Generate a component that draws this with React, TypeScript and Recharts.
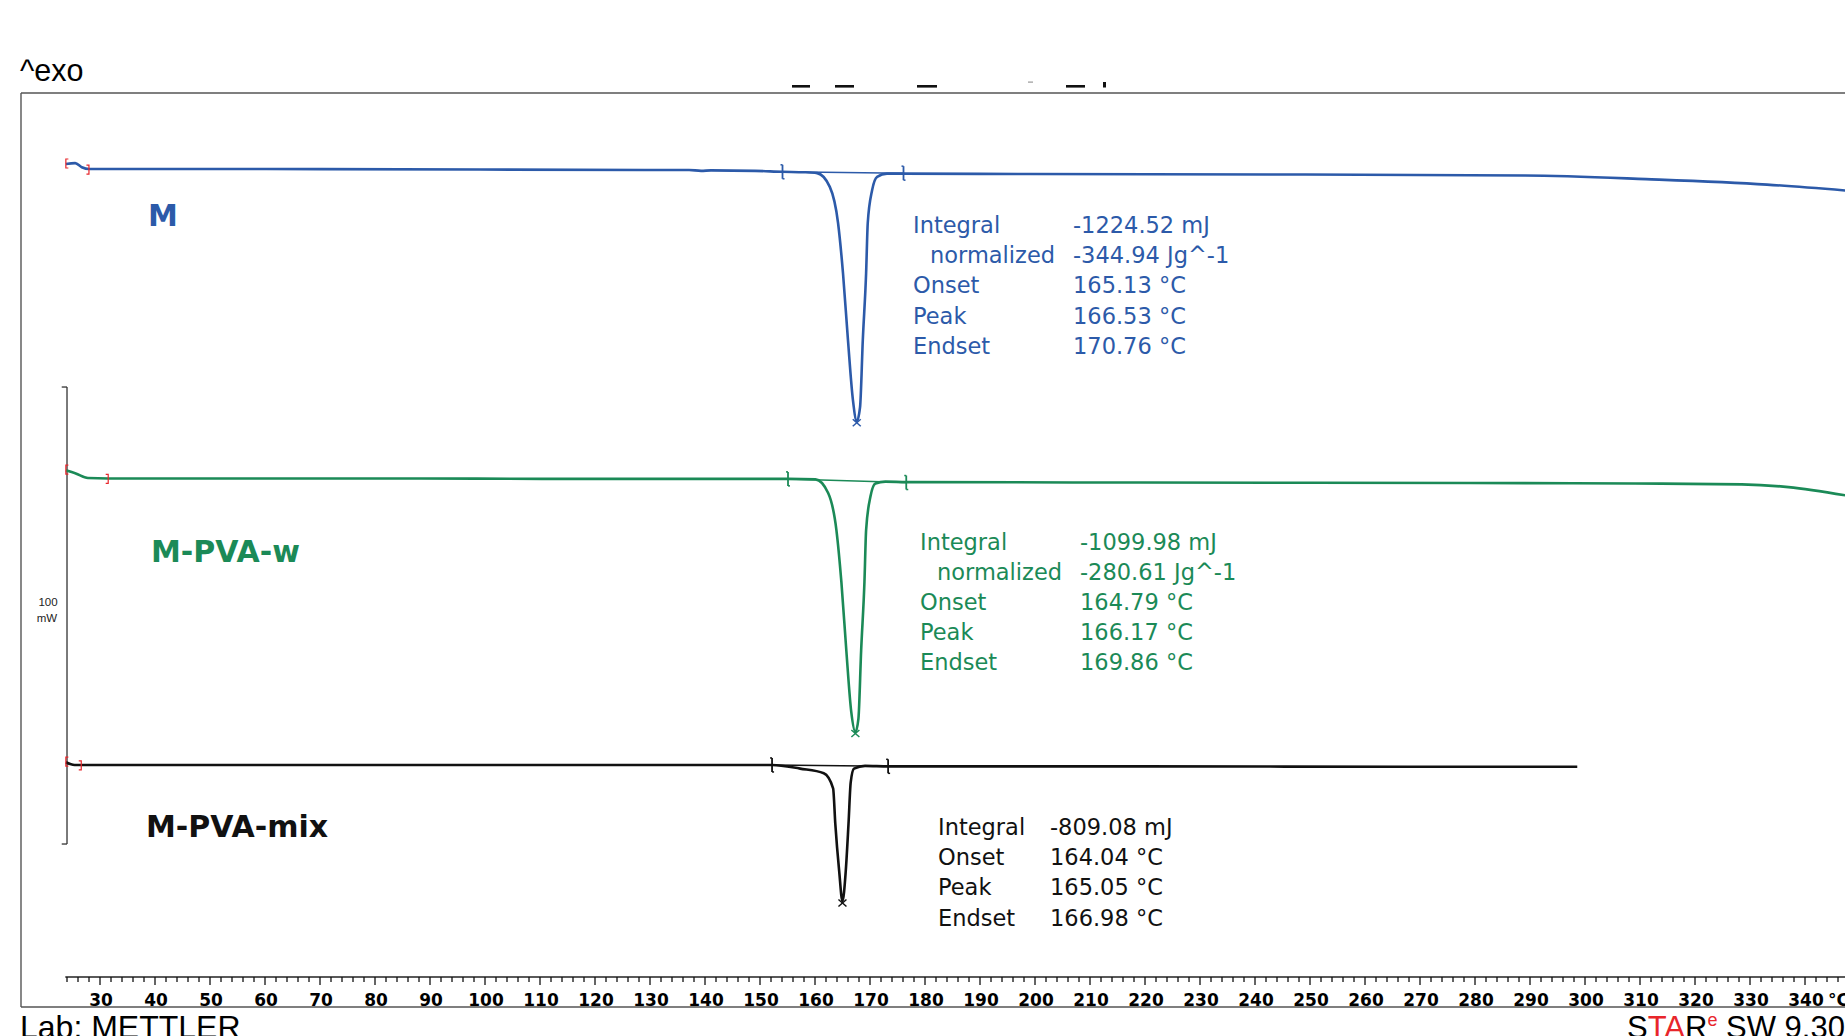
import React from 'react';
import { LineChart, Line, XAxis, YAxis, ReferenceLine, ReferenceDot } from 'recharts';

const BLUE = '#2c5aa9';
const GREEN = '#1b8a57';
const BLACK = '#111111';
const RED = '#e8262b';

// Temperature (°C) and heat-flow (mW, curves stacked as drawn) for each sample
const mTemp = [24.7, 26.4, 27.6, 28.9, 60, 100, 130, 138, 140.2, 142, 150, 155, 159, 161.3, 163.6, 165.1, 166.0, 166.9, 167.8, 168.5, 169.1, 169.6, 170.2, 170.5, 171.3, 172.2, 174.0, 177, 200, 250, 290, 312, 334, 348.2];
const mFlow = [177.9, 178.1, 177.2, 176.8, 176.8, 176.7, 176.6, 176.6, 176.4, 176.5, 176.4, 176.2, 176.1, 175.9, 172.9, 165.0, 154.0, 139.4, 126.3, 121.6, 124.7, 139.4, 154.0, 165.0, 172.2, 175.1, 175.8, 175.8, 175.7, 175.6, 175.4, 174.6, 173.4, 172.1];

const wTemp = [24.7, 26.5, 28.7, 32.4, 80, 120, 150, 156, 161.0, 163.3, 164.8, 165.7, 166.6, 167.5, 168.25, 168.8, 169.3, 169.9, 170.2, 171.0, 171.9, 173.7, 177.5, 220, 280, 310, 329.4, 337.9, 348.2];
const wFlow = [110.9, 110.2, 109.2, 109.1, 109.1, 109.0, 109.0, 109.0, 108.9, 105.9, 97.8, 86.5, 71.5, 58.0, 53.6, 56.5, 71.5, 86.5, 97.8, 105.2, 108.0, 108.4, 108.3, 108.2, 108.1, 108.0, 107.8, 107.2, 105.4];

const xTemp = [24.7, 25.5, 26.3, 27.5, 60, 120, 150, 153.1, 158.2, 162.5, 164.2, 164.6, 165.3, 165.9, 166.5, 167.0, 167.4, 168.0, 170.0, 174.2, 220, 270, 299.5];
const xFlow = [47.0, 46.6, 46.4, 46.4, 46.4, 46.4, 46.4, 46.4, 45.6, 44.6, 41.3, 33.5, 23.2, 16.6, 23.2, 33.5, 42.6, 45.6, 46.2, 46.1, 46.1, 46.0, 46.0];

// Evaluation marks: [onsetT, onsetV, endT, endV, peakT, peakV, startT, startV, bracketEndT, bracketEndV]
const mMarks = [155.0, 176.2, 177.0, 175.9, 168.5, 121.4, 24.7, 177.9, 28.9, 176.8];
const wMarks = [156.0, 109.0, 177.5, 108.2, 168.25, 53.4, 24.7, 110.9, 32.4, 109.1];
const xMarks = [153.1, 46.4, 174.2, 46.1, 165.9, 16.3, 24.7, 47.0, 27.5, 46.4];

const mLabels = ['Integral', '  normalized', 'Onset', 'Peak', 'Endset'];
const mValues = ['-1224.52 mJ', '-344.94 Jg^-1', '165.13 °C', '166.53 °C', '170.76 °C'];
const wLabels = ['Integral', '  normalized', 'Onset', 'Peak', 'Endset'];
const wValues = ['-1099.98 mJ', '-280.61 Jg^-1', '164.79 °C', '166.17 °C', '169.86 °C'];
const xLabels = ['Integral', 'Onset', 'Peak', 'Endset'];
const xValues = ['-809.08 mJ', '164.04 °C', '165.05 °C', '166.98 °C'];

const TICKS: number[] = [];
for (let t = 24; t <= 346; t += 2) TICKS.push(t);
const AXIS_START = 24.6;
const AXIS_END = 358.18;

// scale bar: 100 mW
const SCALE_T = 24.91;
const SCALE_CAP_T = 23.95;
const SCALE_LOW = 29.1;
const SCALE_HIGH = 129.1;

const build = (ts: number[], vs: number[]) => ts.map((t, i) => ({ t, v: vs[i] }));
const mData = build(mTemp, mFlow);
const wData = build(wTemp, wFlow);
const xData = build(xTemp, xFlow);

const AxisTick = (props: any) => {
  const { x, y, payload } = props;
  const v = payload.value;
  const major = v % 10 === 0;
  const tx = x + 5;
  return (
    <g>
      <line x1={tx} x2={tx} y1={y} y2={y + (major ? 8 : 5)} stroke="#111" strokeWidth={1.3} />
      {major && v >= 30 && (
        <text x={x + 6} y={y + 29} textAnchor="middle" fontFamily="DejaVu Sans" fontWeight="bold" fontSize={17} fill="#000">
          {v}
        </text>
      )}
      {v === 340 && (
        <text x={x + 28} y={y + 29} textAnchor="start" fontFamily="DejaVu Sans" fontWeight="bold" fontSize={17} fill="#000">
          °C
        </text>
      )}
    </g>
  );
};

const makeOnset = (color: string) => (p: any) => (
  <g>
    <line x1={p.cx} x2={p.cx} y1={p.cy - 7} y2={p.cy + 7} stroke={color} strokeWidth={1.8} />
    <line x1={p.cx - 2} x2={p.cx} y1={p.cy - 7} y2={p.cy - 7} stroke={color} strokeWidth={1.5} />
    <line x1={p.cx} x2={p.cx + 2} y1={p.cy + 7} y2={p.cy + 7} stroke={color} strokeWidth={1.5} />
  </g>
);

const makeCross = (color: string) => (p: any) => (
  <g>
    <line x1={p.cx - 4} x2={p.cx + 4} y1={p.cy - 3} y2={p.cy + 4} stroke={color} strokeWidth={1.5} />
    <line x1={p.cx - 4} x2={p.cx + 4} y1={p.cy + 4} y2={p.cy - 3} stroke={color} strokeWidth={1.5} />
  </g>
);

const openBracket = (p: any) => (
  <path d={`M${p.cx + 2.5},${p.cy - 5} L${p.cx},${p.cy - 5} L${p.cx},${p.cy + 4} L${p.cx + 2.5},${p.cy + 4}`} fill="none" stroke={RED} strokeWidth={1.2} />
);
const closeBracket = (p: any) => (
  <path d={`M${p.cx - 2.5},${p.cy - 4} L${p.cx},${p.cy - 4} L${p.cx},${p.cy + 5} L${p.cx - 2.5},${p.cy + 5}`} fill="none" stroke={RED} strokeWidth={1.2} />
);

const marks = (key: string, mk: number[], color: string) => [
  <ReferenceLine key={key + 'b'} segment={[{ x: mk[0], y: mk[1] }, { x: mk[2], y: mk[3] }]} stroke={color} strokeWidth={1.5} />,
  <ReferenceDot key={key + 'o'} x={mk[0]} y={mk[1]} r={4} shape={makeOnset(color)} />,
  <ReferenceDot key={key + 'e'} x={mk[2]} y={mk[3]} r={4} shape={makeOnset(color)} />,
  <ReferenceDot key={key + 'p'} x={mk[4]} y={mk[5]} r={4} shape={makeCross(color)} />,
  <ReferenceDot key={key + 's'} x={mk[6]} y={mk[7]} r={4} shape={openBracket} />,
  <ReferenceDot key={key + 'f'} x={mk[8]} y={mk[9]} r={4} shape={closeBracket} />,
];

const TextBlock = ({ labels, values, x, vx, y0, color }: any) => (
  <g fontFamily="DejaVu Sans" fontSize={22.5} fill={color}>
    {labels.map((l: string, i: number) => (
      <text key={'l' + i} x={l.startsWith('  ') ? x + 17 : x} y={y0 + i * 30.2}>{l.trim()}</text>
    ))}
    {values.map((v: string, i: number) => (
      <text key={'v' + i} x={vx} y={y0 + i * 30.2}>{v}</text>
    ))}
  </g>
);

export default function App() {
  return (
    <div style={{ position: 'absolute', left: 0, top: 0, width: 1845, height: 1036, overflow: 'hidden', background: '#fff' }}>
      <LineChart width={1900} height={1036} margin={{ top: 93, right: 0, bottom: 29, left: 21 }}>
        <XAxis
          type="number"
          dataKey="t"
          domain={[16.545, 358.18]}
          allowDataOverflow
          ticks={TICKS}
          interval={0}
          tick={(p: any) => <AxisTick {...p} />}
          tickLine={false}
          tickSize={0}
          tickMargin={0}
          height={30}
          axisLine={false}
        />
        <YAxis type="number" hide domain={[0, 193.44]} allowDataOverflow />
        <ReferenceLine segment={[{ x: AXIS_START, y: 0 }, { x: AXIS_END, y: 0 }]} stroke="#222" strokeWidth={1.6} ifOverflow="visible" />
        <ReferenceLine segment={[{ x: SCALE_T, y: SCALE_LOW }, { x: SCALE_T, y: SCALE_HIGH }]} stroke="#333" strokeWidth={1.3} />
        <ReferenceLine segment={[{ x: SCALE_CAP_T, y: SCALE_LOW }, { x: SCALE_T, y: SCALE_LOW }]} stroke="#333" strokeWidth={1.3} />
        <ReferenceLine segment={[{ x: SCALE_CAP_T, y: SCALE_HIGH }, { x: SCALE_T, y: SCALE_HIGH }]} stroke="#333" strokeWidth={1.3} />
        <Line data={mData} dataKey="v" type="monotone" stroke={BLUE} strokeWidth={2.6} dot={false} isAnimationActive={false} />
        <Line data={wData} dataKey="v" type="monotone" stroke={GREEN} strokeWidth={2.6} dot={false} isAnimationActive={false} />
        <Line data={xData} dataKey="v" type="monotone" stroke={BLACK} strokeWidth={2.6} dot={false} isAnimationActive={false} />
        {marks('m', mMarks, BLUE)}
        {marks('w', wMarks, GREEN)}
        {marks('x', xMarks, BLACK)}
      </LineChart>
      <svg width={1845} height={1036} style={{ position: 'absolute', left: 0, top: 0, pointerEvents: 'none' }}>
        <line x1={21} x2={1845} y1={93} y2={93} stroke="#555" strokeWidth={1.4} />
        <line x1={21} x2={21} y1={93} y2={1007} stroke="#555" strokeWidth={1.4} />
        <line x1={21} x2={1845} y1={1007} y2={1007} stroke="#555" strokeWidth={1.4} />
        <rect x={792} y={85} width={18} height={2.6} fill="#111" />
        <rect x={835} y={85} width={19} height={2.6} fill="#111" />
        <rect x={917} y={85} width={20} height={2.6} fill="#111" />
        <rect x={1028} y={81.5} width={5} height={1.2} fill="#999" />
        <rect x={1066} y={85} width={19} height={2.6} fill="#111" />
        <rect x={1103} y={82} width={3} height={5.5} fill="#111" />
        <text x={20} y={81} fontFamily="Liberation Sans" fontSize={30.5} fill="#000">^exo</text>
        <text x={48} y={606} textAnchor="middle" fontFamily="Liberation Sans" fontSize={11.5} fill="#222">100</text>
        <text x={47} y={622} textAnchor="middle" fontFamily="Liberation Sans" fontSize={11.5} fill="#222">mW</text>
        <g fontFamily="DejaVu Sans" fontWeight="bold" fontSize={30}>
          <text x={148} y={226} fill={BLUE}>M</text>
          <text x={151} y={562} fill={GREEN}>M-PVA-w</text>
          <text x={146} y={837} fill={BLACK}>M-PVA-mix</text>
        </g>
        <TextBlock labels={mLabels} values={mValues} x={913} vx={1073} y0={233} color={BLUE} />
        <TextBlock labels={wLabels} values={wValues} x={920} vx={1080} y0={549.5} color={GREEN} />
        <TextBlock labels={xLabels} values={xValues} x={938} vx={1050} y0={835} color={BLACK} />
        <text x={20} y={1038} fontFamily="Liberation Sans" fontSize={32} fill="#000">Lab: METTLER</text>
        <text x={1627} y={1038} fontFamily="Liberation Sans" fontSize={31} fill="#000">
          <tspan>S</tspan>
          <tspan fill={RED}>TA</tspan>
          <tspan>R</tspan>
          <tspan fill={RED} fontSize={18} dy={-12}>e</tspan>
          <tspan dy={12}> SW 9.30</tspan>
        </text>
      </svg>
    </div>
  );
}
